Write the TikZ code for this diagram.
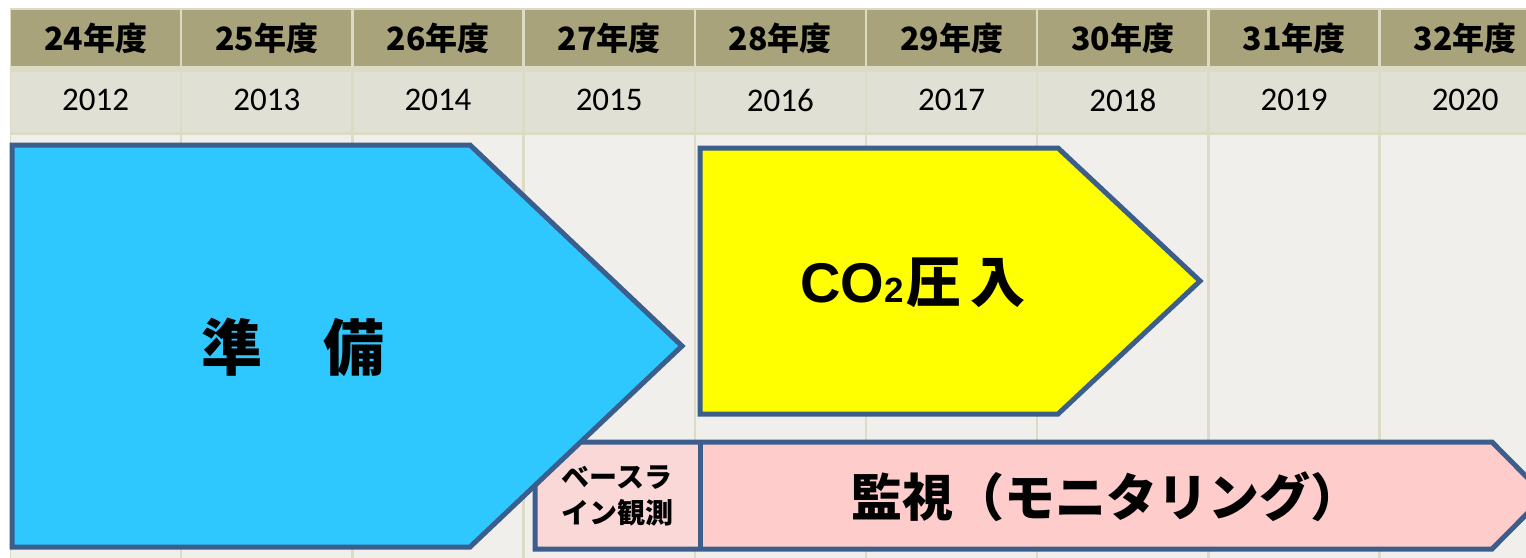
\documentclass[tikz,border=0pt]{standalone}
\usepackage{fontspec}
\newfontfamily\jp{Noto Sans CJK JP}
\newfontfamily\arfont{Liberation Sans}
\newfontfamily\calfont{Carlito}
\definecolor{hdr}{HTML}{A8A37A}
\definecolor{row2}{HTML}{E1E0D5}
\definecolor{body}{HTML}{F0EFEB}
\definecolor{sepc}{HTML}{DCDBC5}
\definecolor{edge}{RGB}{59,94,140}
\definecolor{bluef}{RGB}{46,200,255}
\definecolor{yellowf}{RGB}{255,255,0}
\definecolor{pinkf}{HTML}{FFCCCC}
\definecolor{pinkl}{HTML}{FAD8D8}
\tikzset{
  shapebox/.style={draw=edge, line width=5pt, line join=miter},
  hdrtext/.style={font=\jp\bfseries\fontsize{32}{36}\selectfont, text=black, inner sep=0pt},
  yeartext/.style={font=\calfont\fontsize{33}{38}\selectfont, text=black, inner sep=0pt},
}
\begin{document}
\begin{tikzpicture}[x=1pt,y=-1pt]
\fill[white] (0,0) rectangle (1526,557);
\useasboundingbox (0,0) rectangle (1526,557);
\begin{scope}
\clip (0,0) rectangle (1526,557);
\fill[sepc] (10,8) rectangle (1560,560);
\foreach \i/\a/\b in {0/24/2012,1/25/2013,2/26/2014,3/27/2015,4/28/2016,5/29/2017,6/30/2018,7/31/2019,8/32/2020}{
  \pgfmathsetmacro{\xa}{10+171.2*\i+1.2}
  \pgfmathsetmacro{\xb}{10+171.2*(\i+1)-1.2}
  \pgfmathsetmacro{\xc}{10+171.2*(\i+0.5)}
  \fill[hdr] (\xa,10) rectangle (\xb,66);
  \fill[row2] (\xa,72) rectangle (\xb,132);
  \fill[body] (\xa,135) rectangle (\xb,560);
  \node[hdrtext] (h\i) at (\xc,38) {\a 年度};
  \node[yeartext] (y\i) at (\xc,100) {\b};
}
% monitoring band
\fill[pinkf] (700,442) -- (1492,442) -- (1545,495.5) -- (1492,549) -- (700,549) -- cycle;
\fill[pinkl] (535,442) rectangle (700,549);
\draw[shapebox] (535,442) -- (1492,442) -- (1545,495.5) -- (1492,549) -- (535,549) -- cycle;
\draw[shapebox] (700,442) -- (700,549);
\node[font=\jp\bfseries\fontsize{28}{36}\selectfont, align=center, inner sep=0pt] (base) at (617,496) {ベースラ\\イン観測};
\node[font=\jp\bfseries\fontsize{51}{60}\selectfont, inner sep=0pt] (mon) at (1106,497) {監視（モニタリング）};
% preparation
\draw[shapebox, fill=bluef] (12,145) -- (470,145) -- (682,346) -- (470,547) -- (12,547) -- cycle;
\node[font=\jp\bfseries\fontsize{61}{70}\selectfont, inner sep=0pt] (prep) at (293,347) {準　備};
% injection
\draw[shapebox, fill=yellowf] (700,148) -- (1058,148) -- (1200,281) -- (1058,414) -- (700,414) -- cycle;
\node[inner sep=0pt] (inj) at (913,283) {{\arfont\bfseries\fontsize{56}{60}\selectfont CO}{\arfont\bfseries\fontsize{35}{40}\selectfont 2}\hspace{3pt}{\jp\bfseries\fontsize{55}{60}\selectfont 圧\hspace{9pt}入}};
\end{scope}
\end{tikzpicture}
\end{document}
